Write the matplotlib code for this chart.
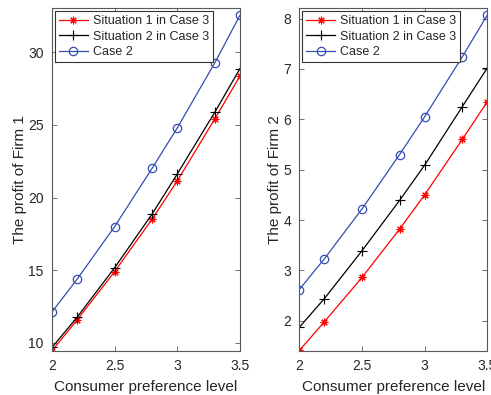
import matplotlib
matplotlib.use('Agg')
import matplotlib.pyplot as plt

# consumer preference level
x = [2, 2.2, 2.5, 2.8, 3, 3.3, 3.5]

# Firm 1 profit
f1_sit1 = [9.45, 11.57, 14.90, 18.53, 21.15, 25.43, 28.37]
f1_sit2 = [9.68, 11.75, 15.17, 18.88, 21.63, 25.89, 28.88]
f1_case2 = [12.12, 14.37, 18.00, 22.03, 24.80, 29.29, 32.55]

# Firm 2 profit
f2_sit1 = [1.41, 1.98, 2.86, 3.82, 4.50, 5.60, 6.35]
f2_sit2 = [1.87, 2.44, 3.39, 4.39, 5.09, 6.25, 7.02]
f2_case2 = [2.62, 3.23, 4.22, 5.30, 6.05, 7.24, 8.07]

labels = ['Situation 1 in Case 3', 'Situation 2 in Case 3', 'Case 2']
xticks = [2, 2.5, 3, 3.5]

plt.rcParams['font.family'] = ['Liberation Sans', 'DejaVu Sans']
txt = '0.15'
blue = (0.2, 0.3, 0.7)

fig = plt.figure(figsize=(4.91, 3.95), dpi=100)
ax1 = fig.add_axes([52 / 491, 44 / 395, 188 / 491, 343 / 395])
ax2 = fig.add_axes([299.3 / 491, 44 / 395, 188 / 491, 343 / 395])

panels = [
    (ax1, f1_sit1, f1_sit2, f1_case2, 'The profit of Firm 1', (9.43, 33.05), [10, 15, 20, 25, 30]),
    (ax2, f2_sit1, f2_sit2, f2_case2, 'The profit of Firm 2', (1.40, 8.21), [2, 3, 4, 5, 6, 7, 8]),
]

for ax, s1, s2, c2, ylab, ylim, yticks in panels:
    ax.plot(x, s1, color='red', lw=0.9, marker=(8, 2, 0), ms=5.5, mew=0.8, label=labels[0])
    ax.plot(x, s2, color='black', lw=0.9, marker='+', ms=6.5, mew=0.8, label=labels[1])
    ax.plot(x, c2, color=blue, lw=0.9, marker='o', ms=6, mfc='none', mew=0.9, label=labels[2])
    ax.set_xlim(2, 3.5)
    ax.set_ylim(*ylim)
    ax.set_xticks(xticks)
    ax.set_xticklabels(['2', '2.5', '3', '3.5'])
    ax.set_yticks(yticks)
    ax.tick_params(direction='in', top=True, right=True, labelsize=10,
                   colors='0.35', labelcolor=txt, length=3.5, width=0.6, pad=6)
    for sp in ax.spines.values():
        sp.set_color('0.35')
        sp.set_linewidth(0.8)
    ax.set_xlabel('Consumer preference level', fontsize=11, color=txt, labelpad=5)
    ax.set_ylabel(ylab, fontsize=11, color=txt, labelpad=1)
    leg = ax.legend(loc='upper left', fontsize=9, handlelength=2.3, handletextpad=0.4,
                    borderpad=0.3, labelspacing=0.3, borderaxespad=0.25,
                    fancybox=False, framealpha=1)
    leg.get_frame().set_edgecolor('0.2')
    leg.get_frame().set_linewidth(0.8)
    for t in leg.get_texts():
        t.set_color(txt)

fig.savefig('out.png', dpi=100)
